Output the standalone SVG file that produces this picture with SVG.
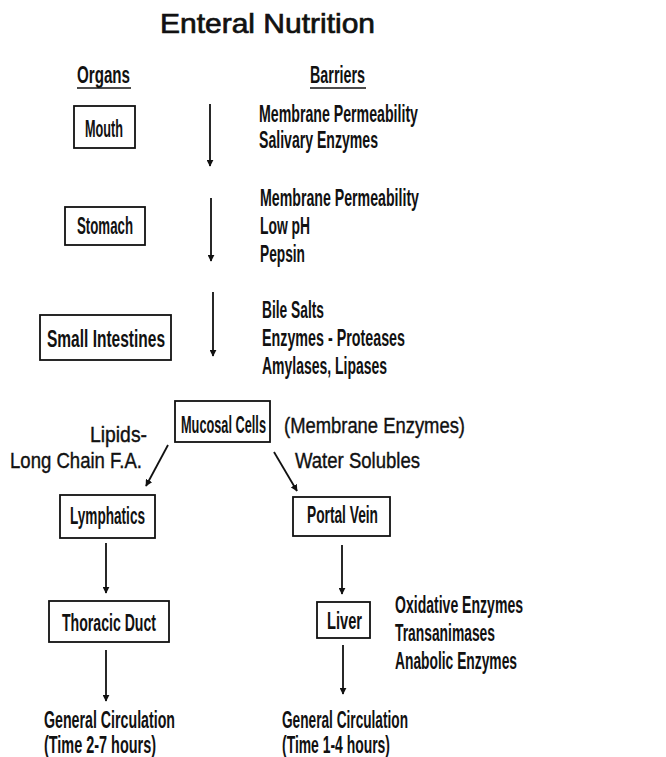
<svg xmlns="http://www.w3.org/2000/svg" width="666" height="757" viewBox="0 0 666 757">
<defs>
<marker id="ah" viewBox="0 0 10 10" refX="9" refY="5" markerWidth="7" markerHeight="7" markerUnits="userSpaceOnUse" orient="auto">
<path d="M0,0 L10,5 L0,10 z" fill="#111"/>
</marker>
</defs>
<style>
text{font-family:"Liberation Sans",Arial,sans-serif;fill:#111}
.c{font-size:23px;font-weight:bold}
.r{font-size:22px;stroke:#111;stroke-width:0.4}
.t{font-size:28px;stroke:#111;stroke-width:0.7}
.box{fill:#fff;stroke:#111;stroke-width:1.8}
.con line{stroke:#111;stroke-width:1.8;marker-end:url(#ah)}
.ul{stroke:#111;stroke-width:1.5}
</style>
<rect width="666" height="757" fill="#fff"/>
<text class="t" x="160" y="33" textLength="215" lengthAdjust="spacingAndGlyphs">Enteral Nutrition</text>
<g id="headers">
<text class="c" x="77" y="83" textLength="53" lengthAdjust="spacingAndGlyphs">Organs</text>
<line class="ul" x1="77" y1="88" x2="131" y2="88"/>
<text class="c" x="310" y="83" textLength="55" lengthAdjust="spacingAndGlyphs">Barriers</text>
<line class="ul" x1="310" y1="88" x2="366" y2="88"/>
</g>
<g id="mouth">
<rect class="box" x="74" y="106" width="61" height="42"/>
<text class="c" x="85" y="137" textLength="38" lengthAdjust="spacingAndGlyphs">Mouth</text>
</g>
<g id="mouth-barriers">
<text class="c" x="259" y="122" textLength="159" lengthAdjust="spacingAndGlyphs">Membrane Permeability</text>
<text class="c" x="259" y="148" textLength="119" lengthAdjust="spacingAndGlyphs">Salivary Enzymes</text>
</g>
<g id="stomach">
<rect class="box" x="65" y="207" width="80" height="38"/>
<text class="c" x="77" y="234" textLength="56" lengthAdjust="spacingAndGlyphs">Stomach</text>
</g>
<g id="stomach-barriers">
<text class="c" x="260" y="206" textLength="159" lengthAdjust="spacingAndGlyphs">Membrane Permeability</text>
<text class="c" x="260" y="234" textLength="50" lengthAdjust="spacingAndGlyphs">Low pH</text>
<text class="c" x="260" y="262" textLength="45" lengthAdjust="spacingAndGlyphs">Pepsin</text>
</g>
<g id="small-intestines">
<rect class="box" x="40" y="315" width="131" height="45"/>
<text class="c" x="47" y="347" textLength="118" lengthAdjust="spacingAndGlyphs">Small Intestines</text>
</g>
<g id="intestine-barriers">
<text class="c" x="262" y="318" textLength="62" lengthAdjust="spacingAndGlyphs">Bile Salts</text>
<text class="c" x="262" y="346" textLength="143" lengthAdjust="spacingAndGlyphs">Enzymes - Proteases</text>
<text class="c" x="262" y="374" textLength="125" lengthAdjust="spacingAndGlyphs">Amylases, Lipases</text>
</g>
<g id="mucosal-cells">
<rect class="box" x="175" y="401" width="95" height="41"/>
<text class="c" x="181" y="433" textLength="85" lengthAdjust="spacingAndGlyphs">Mucosal Cells</text>
</g>
<text class="r" x="284" y="433" textLength="181" lengthAdjust="spacingAndGlyphs">(Membrane Enzymes)</text>
<text class="r" x="90" y="442" textLength="57" lengthAdjust="spacingAndGlyphs">Lipids-</text>
<text class="r" x="10" y="468" textLength="132" lengthAdjust="spacingAndGlyphs">Long Chain F.A.</text>
<text class="r" x="295" y="468" textLength="125" lengthAdjust="spacingAndGlyphs">Water Solubles</text>
<g id="lymphatics">
<rect class="box" x="60" y="495" width="95" height="43"/>
<text class="c" x="70" y="524" textLength="75" lengthAdjust="spacingAndGlyphs">Lymphatics</text>
</g>
<g id="portal-vein">
<rect class="box" x="293" y="497" width="97" height="39"/>
<text class="c" x="307" y="523" textLength="71" lengthAdjust="spacingAndGlyphs">Portal Vein</text>
</g>
<g id="thoracic-duct">
<rect class="box" x="49" y="601" width="120" height="41"/>
<text class="c" x="62" y="631" textLength="94" lengthAdjust="spacingAndGlyphs">Thoracic Duct</text>
</g>
<g id="liver">
<rect class="box" x="317" y="602" width="53" height="36"/>
<text class="c" x="327" y="629" textLength="35" lengthAdjust="spacingAndGlyphs">Liver</text>
</g>
<g id="liver-enzymes">
<text class="c" x="395" y="613" textLength="128" lengthAdjust="spacingAndGlyphs">Oxidative Enzymes</text>
<text class="c" x="395" y="641" textLength="100" lengthAdjust="spacingAndGlyphs">Transanimases</text>
<text class="c" x="395" y="669" textLength="122" lengthAdjust="spacingAndGlyphs">Anabolic Enzymes</text>
</g>
<g id="circulation-left">
<text class="c" x="44" y="728" textLength="131" lengthAdjust="spacingAndGlyphs">General Circulation</text>
<text class="c" x="44" y="753" textLength="112" lengthAdjust="spacingAndGlyphs">(Time 2-7 hours)</text>
</g>
<g id="circulation-right">
<text class="c" x="282" y="728" textLength="126" lengthAdjust="spacingAndGlyphs">General Circulation</text>
<text class="c" x="282" y="753" textLength="108" lengthAdjust="spacingAndGlyphs">(Time 1-4 hours)</text>
</g>
<g id="connectors" class="con">
<line x1="210" y1="104" x2="210" y2="166"/>
<line x1="211" y1="198" x2="211" y2="261"/>
<line x1="213" y1="292" x2="213" y2="356"/>
<line x1="168" y1="445" x2="146" y2="486"/>
<line x1="274" y1="452" x2="297" y2="491"/>
<line x1="106" y1="543" x2="106" y2="593"/>
<line x1="342" y1="545" x2="342" y2="594"/>
<line x1="106" y1="650" x2="106" y2="701"/>
<line x1="343" y1="645" x2="343" y2="694"/>
</g>
</svg>
